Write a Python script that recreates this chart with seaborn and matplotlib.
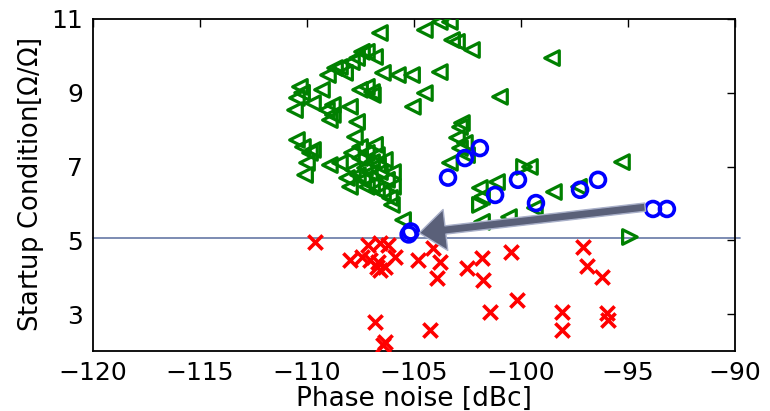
import matplotlib
matplotlib.use("Agg")
import matplotlib.pyplot as plt
import seaborn as sns
import pandas as pd

# ---- data ----
red_x = [-109.63, -107.99, -107.43, -107.15, -106.59, -106.21, -105.89, -107.06, -106.68,
         -106.59, -106.36, -106.73, -104.81, -104.11, -103.79, -103.93, -102.52, -101.82,
         -101.78, -101.45, -106.82, -104.25, -106.36, -106.45, -100.47, -100.19, -97.10,
         -96.92, -96.21, -98.08, -98.08, -95.98, -95.93]
red_y = [4.96, 4.47, 4.55, 4.88, 4.93, 4.88, 4.55, 4.47, 4.41,
         4.20, 4.28, 4.28, 4.47, 4.79, 4.41, 3.98, 4.25, 4.52,
         3.93, 3.06, 2.79, 2.57, 2.25, 2.17, 4.69, 3.38, 4.82,
         4.31, 4.01, 3.06, 2.57, 3.03, 2.84]

blue_x = [-105.25, -105.15, -103.41, -102.62, -101.92, -101.21, -100.14, -99.30, -97.24,
          -96.40, -93.83, -93.18]
blue_y = [5.16, 5.24, 6.70, 7.23, 7.50, 6.23, 6.64, 6.01, 6.37,
          6.64, 5.85, 5.85]

green_left_x = [-106.59, -104.49, -103.79, -103.32, -103.22, -102.99, -102.29, -98.55, -106.82,
                -107.20, -107.43, -107.66, -107.90, -108.46, -108.69, -109.02, -108.22, -106.45,
                -105.75, -105.09, -103.79, -109.30, -107.52, -107.20, -106.96, -106.92, -104.49,
                -105.05, -107.99, -108.79, -109.07, -108.79, -110.33, -110.23, -110.47, -110.56,
                -109.72, -107.66, -108.93, -100.98, -102.76,
                -110.47, -110.19, -109.86, -109.72, -110.00, -110.09, -108.93, -108.46, -107.76,
                -107.52, -107.90, -107.52, -107.20, -106.73, -107.85, -108.13, -107.38, -107.06,
                -106.59, -106.26, -105.98, -107.99, -107.20, -106.73, -106.45, -106.12, -106.03,
                -105.98, -105.51, -106.96, -107.29, -106.68, -106.96, -107.62, -106.82, -106.36,
                -102.85, -102.99, -102.62, -102.85, -102.52, -103.32, -99.58, -101.12, -101.92,
                -101.82, -98.46, -97.29, -99.35, -100.56, -101.82, -95.28]
green_left_y = [10.62, 10.70, 10.92, 10.92, 10.43, 10.38, 10.16, 9.94, 9.97,
                10.11, 10.11, 9.94, 9.83, 9.70, 9.67, 9.48, 9.54, 9.54,
                9.48, 9.48, 9.56, 9.08, 9.08, 9.16, 9.02, 8.94, 8.99,
                8.62, 8.62, 8.67, 8.53, 8.40, 9.16, 9.00, 8.86, 8.53,
                8.72, 8.21, 8.26, 8.89, 8.18,
                7.72, 7.53, 7.37, 7.45, 7.10, 6.77, 7.04, 7.10, 7.80,
                7.53, 7.37, 7.23, 7.37, 7.31, 6.91, 6.69, 6.64, 6.83,
                6.85, 6.64, 6.85, 6.45, 6.45, 6.37, 6.28, 6.15, 5.96,
                6.45, 5.55, 7.12, 6.96, 7.04, 6.50, 6.77, 7.59, 7.18,
                8.07, 7.78, 7.64, 7.50, 7.31, 7.10, 6.99, 6.58, 6.42,
                6.18, 6.31, 6.45, 5.88, 5.63, 5.50, 7.12]

green_right_x = [-99.86, -101.92, -94.91]
green_right_y = [6.99, 5.96, 5.09]

threshold = 5.05
arrow_start = (-94.2, 5.9)
arrow_end = (-104.75, 5.2)

x_ticks = [-120, -115, -110, -105, -100, -95, -90]
y_ticks = [3, 5, 7, 9, 11]

# ---- figure ----
sns.set_style("white")
plt.rcParams["font.family"] = ["DejaVu Sans"]
fig, ax = plt.subplots(figsize=(7.7, 4.11), dpi=100)
fig.subplots_adjust(left=0.1208, right=0.9545, top=0.9538, bottom=0.146)

df_g = pd.DataFrame({"x": green_left_x, "y": green_left_y})
df_gr = pd.DataFrame({"x": green_right_x, "y": green_right_y})
df_b = pd.DataFrame({"x": blue_x, "y": blue_y})
df_r = pd.DataFrame({"x": red_x, "y": red_y})

sns.scatterplot(data=df_g, x="x", y="y", ax=ax, marker="<", s=110,
                facecolors="none", edgecolors="green", linewidth=2.3, zorder=3)
sns.scatterplot(data=df_gr, x="x", y="y", ax=ax, marker=">", s=110,
                facecolors="none", edgecolors="green", linewidth=2.3, zorder=3)
sns.scatterplot(data=df_b, x="x", y="y", ax=ax, marker="o", s=115,
                facecolors="none", edgecolors="blue", linewidth=2.6, zorder=4)
sns.scatterplot(data=df_r, x="x", y="y", ax=ax, marker="x", s=105,
                color="red", linewidth=2.6, zorder=3)

ax.axhline(threshold, xmin=0, xmax=1.008, color="#7282ad", linewidth=1.3,
           clip_on=False, zorder=2)

ax.annotate("", xy=arrow_end, xytext=arrow_start,
            arrowprops=dict(arrowstyle="simple,head_length=0.7,head_width=1.1,tail_width=0.22",
                            mutation_scale=27, fc="#5a6079", ec="#a9b0c9", lw=1.0,
                            shrinkA=0, shrinkB=0),
            zorder=5)

ax.set_xlim(-120, -90)
ax.set_ylim(2, 11)
ax.set_xticks(x_ticks)
ax.set_yticks(y_ticks)
ax.set_xticklabels([f"\u2212{abs(v)}" for v in x_ticks])
ax.set_yticklabels([str(v) for v in y_ticks])
ax.tick_params(direction="in", length=6, width=1, top=True, right=True,
               labelsize=18, pad=7, colors="black")
for s in ax.spines.values():
    s.set_color("black")
    s.set_linewidth(1.3)
ax.set_xlabel("Phase noise [dBc]", fontsize=19, labelpad=1, color="black")
ax.set_ylabel(r"Startup Condition[$\mathit{\Omega}/\mathit{\Omega}$]", fontsize=18.5,
              labelpad=4, color="black")

fig.savefig("out.png", dpi=100)
